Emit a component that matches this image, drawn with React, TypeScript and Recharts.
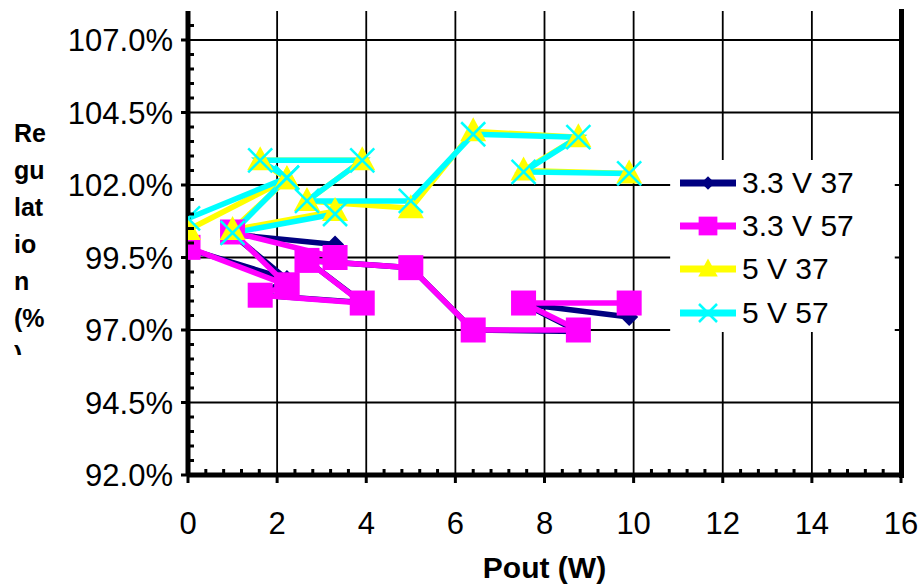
import {
  LineChart,
  Line,
  XAxis,
  YAxis,
  ReferenceLine,
  ReferenceArea,
  Legend,
} from "recharts";

// Pout (W) in the order the rows were measured; the row at index 4 is a break in the line
const pout = [0, 2.22, 1.0, 3.3, 3.3, 2.22, 1.62, 3.91, 2.67, 5.0, 6.4, 8.76, 7.53, 9.9];

// regulation in %
const reg33v37 = [99.8, 98.75, 100.3, 99.95, null, 98.75, 98.2, 97.95, 99.4, 99.15, 97.0, 96.95, 97.9, 97.45];
const reg33v57 = [99.85, 98.55, 100.38, 99.5, null, 98.55, 98.2, 97.93, 99.4, 99.15, 97.0, 97.0, 97.93, 97.93];
const reg5v37 = [100.45, 102.2, 100.45, 101.1, null, 102.2, 102.85, 102.85, 101.45, 101.2, 103.85, 103.65, 102.5, 102.4];
const reg5v57 = [100.85, 102.25, 100.35, 101.0, null, 102.25, 102.85, 102.85, 101.45, 101.45, 103.75, 103.65, 102.45, 102.4];

const seriesNames = ["3.3 V 37", "3.3 V 57", "5 V 37", "5 V 57"];
const seriesColors = ["#000080", "#FF00FF", "#FFFF00", "#00FFFF"];
const seriesShapes = ["diamond", "square", "triangle", "cross"];

const xMajor = [0, 2, 4, 6, 8, 10, 12, 14, 16];
const yMajor = [92, 94.5, 97, 99.5, 102, 104.5, 107];

const FONT = '"Liberation Sans", Arial, sans-serif';
const BORDER = { stroke: "#000", strokeWidth: 5 };

const xTicks = Array.from({ length: 41 }, (_, i) => Math.round(i * 4) / 10);
const yTicks = Array.from({ length: 32 }, (_, i) => 92 + i * 0.5);

function toRows(ys: (number | null)[]) {
  return pout.map((x, i) => ({ x, y: ys[i] }));
}

function Marker({ shape, cx, cy, color, s = 1 }: { shape: string; cx: number; cy: number; color: string; s?: number }) {
  if (shape === "diamond") {
    const r = 9 * s;
    return <polygon points={`${cx},${cy - r} ${cx + r},${cy} ${cx},${cy + r} ${cx - r},${cy}`} fill={color} />;
  }
  if (shape === "square") {
    const r = 12.5 * s;
    return <rect x={cx - r} y={cy - r} width={2 * r} height={2 * r} fill={color} />;
  }
  if (shape === "triangle") {
    const w = 13 * s;
    return (
      <polygon
        points={`${cx},${cy - 14 * s} ${cx + w},${cy + 10 * s} ${cx - w},${cy + 10 * s}`}
        fill={color}
      />
    );
  }
  const r = 12 * s;
  return (
    <g stroke={color} strokeWidth={2.5}>
      <line x1={cx - r} y1={cy - r} x2={cx + r} y2={cy + r} />
      <line x1={cx - r} y1={cy + r} x2={cx + r} y2={cy - r} />
    </g>
  );
}

function makeDot(shape: string, color: string) {
  return (props: any) => {
    const { cx, cy, index } = props;
    if (cx == null || cy == null || props.value == null) return <g key={index} />;
    return (
      <g key={index}>
        <Marker shape={shape} cx={cx} cy={cy} color={color} />
      </g>
    );
  };
}

function YTick(props: any) {
  const { x, y, payload } = props;
  const v = payload.value as number;
  const major = yMajor.some((m) => Math.abs(m - v) < 1e-6);
  if (!major) {
    return <line x1={x} y1={y} x2={x + 6} y2={y} stroke="#000" strokeWidth={3} />;
  }
  return (
    <g>
      <line x1={x - 7} y1={y} x2={x} y2={y} stroke="#000" strokeWidth={3} />
      <text x={x - 15} y={y} dy="0.36em" textAnchor="end" fontSize={31} fontFamily={FONT} fill="#000">
        {v.toFixed(1)}%
      </text>
    </g>
  );
}

function XTick(props: any) {
  const { x, y, payload } = props;
  const v = payload.value as number;
  const major = xMajor.some((m) => Math.abs(m - v) < 1e-6);
  if (!major) {
    return <line x1={x} y1={y - 6} x2={x} y2={y} stroke="#000" strokeWidth={3} />;
  }
  return (
    <g>
      <line x1={x} y1={y} x2={x} y2={y + 8} stroke="#000" strokeWidth={3} />
      <text x={x} y={y + 48} dy="0.36em" textAnchor="middle" fontSize={31} fontFamily={FONT} fill="#000">
        {v}
      </text>
    </g>
  );
}

function LegendBox() {
  return (
    <div style={{ fontFamily: FONT, fontSize: 30, color: "#000", paddingTop: 1 }}>
      {seriesNames.map((name, i) => (
        <div key={name} style={{ display: "flex", alignItems: "center", height: 43.3 }}>
          <svg width={72} height={40} style={{ flex: "none" }}>
            <line x1={10} y1={20} x2={66} y2={20} stroke={seriesColors[i]} strokeWidth={7} />
            <Marker shape={seriesShapes[i]} cx={38} cy={20} color={seriesColors[i]} s={0.75} />
          </svg>
          <span style={{ lineHeight: 1 }}>{name}</span>
        </div>
      ))}
    </div>
  );
}

const yLabelLines = ["Re", "gu", "lat", "io", "n", "(%", ")"];

export default function App() {
  const all = [reg33v37, reg33v57, reg5v37, reg5v57];
  return (
    <div style={{ position: "fixed", left: 0, top: 0, width: 920, height: 584, background: "#fff" }}>
      <LineChart width={920} height={584} margin={{ top: 11, right: 19, left: 0, bottom: 0 }}>
        <XAxis
          type="number"
          dataKey="x"
          domain={[0, 16]}
          ticks={xTicks}
          interval={0}
          allowDataOverflow
          axisLine={BORDER}
          tickLine={false}
          tickSize={0}
          tickMargin={0}
          height={109}
          tick={<XTick />}
          label={{
            value: "Pout (W)",
            position: "insideBottom",
            offset: 6,
            style: { fontFamily: FONT, fontSize: 30, fontWeight: 700, fill: "#000" },
          }}
        />
        <XAxis
          xAxisId="top"
          orientation="top"
          type="number"
          domain={[0, 16]}
          height={0}
          tick={false}
          tickLine={false}
          axisLine={BORDER}
        />
        <YAxis
          type="number"
          domain={[92, 108]}
          ticks={yTicks}
          interval={0}
          allowDataOverflow
          axisLine={BORDER}
          tickLine={false}
          tickSize={0}
          tickMargin={0}
          width={188}
          tick={<YTick />}
        />
        {yMajor.slice(1).map((v) => (
          <ReferenceLine key={"h" + v} y={v} stroke="#000" strokeWidth={1.8} zIndex={-100} />
        ))}
        {xMajor.slice(1, -1).map((v) => (
          <ReferenceLine key={"v" + v} x={v} stroke="#000" strokeWidth={1.8} zIndex={-100} />
        ))}
        <ReferenceArea x1={10.82} x2={15.86} y1={96.93} y2={102.86} fill="#fff" fillOpacity={1} stroke="none" zIndex={-90} />
        {all.map((ys, i) => (
          <Line
            key={seriesNames[i]}
            data={toRows(ys)}
            dataKey="y"
            name={seriesNames[i]}
            stroke={seriesColors[i]}
            strokeWidth={5.5}
            dot={makeDot(seriesShapes[i], seriesColors[i])}
            activeDot={false}
            connectNulls={false}
            isAnimationActive={false}
          />
        ))}
        <Legend
          layout="vertical"
          align="center"
          verticalAlign="middle"
          content={() => <LegendBox />}
          wrapperStyle={{ position: "absolute", left: 670, top: 160, width: 226, height: 172 }}
        />
      </LineChart>
      {/* right side of the plot frame */}
      <div style={{ position: "absolute", left: 898.5, top: 8.5, width: 5, height: 469, background: "#000" }} />
      <div
        style={{
          position: "absolute",
          left: 14,
          top: 115,
          height: 240,
          overflow: "hidden",
          fontFamily: FONT,
          fontSize: 25,
          fontWeight: 700,
          lineHeight: "37px",
          color: "#000",
        }}
      >
        {yLabelLines.map((t) => (
          <div key={t}>{t}</div>
        ))}
      </div>
    </div>
  );
}
